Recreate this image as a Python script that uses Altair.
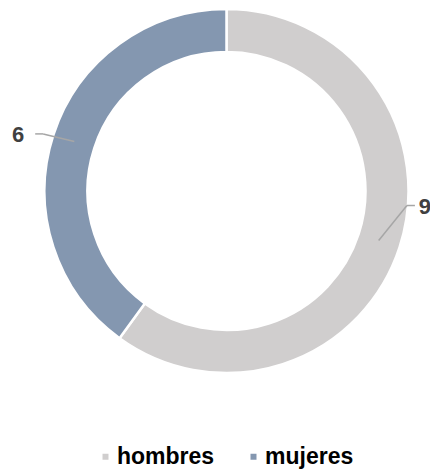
import altair as alt
import pandas as pd

# ---- data ----
generos = ["hombres", "mujeres"]
valores = [9, 6]
colores = ["#d0cece", "#8497b0"]

# ---- style / layout (not data) ----
W, H = 422, 461
CX, CY = 218.5, 183
R_IN, R_OUT = 139, 182
LABEL_NUDGE_DEG = {"hombres": -13.4, "mujeres": -0.7}
ELBOW_R = {"hombres": 181, "mujeres": 192}
TEXT_GAP = {"hombres": 10, "mujeres": 17}
FONT = "Liberation Sans"

df = pd.DataFrame({
    "genero": generos,
    "valor": valores,
    "orden": list(range(len(generos))),
})
df["nudge"] = [LABEL_NUDGE_DEG[g] for g in generos]
df["er"] = [ELBOW_R[g] for g in generos]
df["gap"] = [TEXT_GAP[g] for g in generos]

base = alt.Chart(df)

arc = base.mark_arc(
    innerRadius=R_IN, outerRadius=R_OUT, stroke="white", strokeWidth=2.5
).encode(
    theta=alt.Theta("valor:Q", stack=True),
    color=alt.Color(
        "genero:N",
        scale=alt.Scale(domain=generos, range=colores),
        legend=alt.Legend(
            orient="none", legendX=86, legendY=437, direction="horizontal",
            title=None, symbolType="square", symbolSize=36, symbolStrokeWidth=0,
            labelFontSize=23, labelFont=FONT, labelFontWeight="bold",
            labelColor="black", columnPadding=27, labelOffset=0, padding=0,
        ),
    ),
    order=alt.Order("orden:Q"),
    x=alt.value(CX),
    y=alt.value(CY),
)

geo = base.transform_joinaggregate(
    total="sum(valor)"
).transform_window(
    cum="sum(valor)", sort=[alt.SortField("orden")], frame=[None, 0]
).transform_calculate(
    mid="(datum.cum - datum.valor / 2) / datum.total * 2 * PI",
).transform_calculate(
    la="datum.mid + datum.nudge * PI / 180",
    sx=f"{CX} + 160 * sin(datum.mid)",
    sy=f"{CY} - 160 * cos(datum.mid)",
).transform_calculate(
    ex=f"{CX} + datum.er * sin(datum.la)",
    ey=f"{CY} - datum.er * cos(datum.la)",
    side="sin(datum.la) >= 0 ? 1 : -1",
).transform_calculate(
    hx="datum.ex + datum.side * 8",
).transform_calculate(
    tx="datum.hx + datum.side * datum.gap",
)

LINE = "#a6a6a6"
slant = geo.mark_rule(color=LINE, strokeWidth=1.5).encode(
    x=alt.X("sx:Q", scale=None, axis=None),
    y=alt.Y("sy:Q", scale=None, axis=None),
    x2="ex:Q", y2="ey:Q",
)
horiz = geo.mark_rule(color=LINE, strokeWidth=1.5).encode(
    x=alt.X("ex:Q", scale=None, axis=None),
    y=alt.Y("ey:Q", scale=None, axis=None),
    x2="hx:Q", y2="ey:Q",
)
labels = geo.mark_text(
    font=FONT, fontSize=22, fontWeight="bold", color="#404040",
    align="center", baseline="middle", dy=1,
).encode(
    x=alt.X("tx:Q", scale=None, axis=None),
    y=alt.Y("ey:Q", scale=None, axis=None),
    text="valor:Q",
)

chart = alt.layer(arc, slant, horiz, labels).properties(
    width=W, height=H, autosize="none", padding=0
).configure_view(stroke=None)

chart.save("out.html", embed_options={"renderer": "svg", "actions": False})
